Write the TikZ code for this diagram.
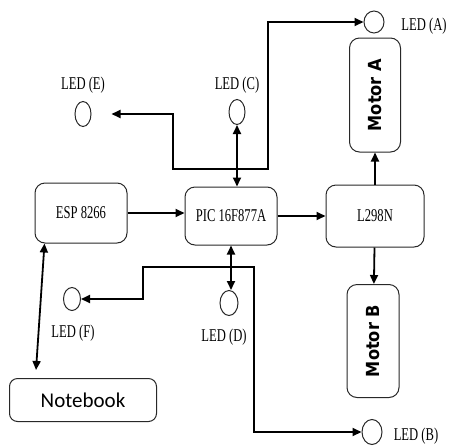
\documentclass[tikz,border=0pt]{standalone}
\usepackage{fontspec}
\setmainfont{Liberation Serif}
\newfontfamily\narrowserif[FakeStretch=0.7]{Liberation Serif}
\newfontfamily\heavysans{DejaVu Sans Condensed}
\newfontfamily\notefont{Carlito}
\usepackage{tikz}
\usetikzlibrary{arrows.meta, positioning, calc, shapes.geometric}
\definecolor{boxline}{RGB}{40,40,40}
\tikzset{
  basebox/.style={
    rectangle, rounded corners=5pt, draw=boxline, line width=0.5pt, align=center,
    font=\narrowserif\fontsize{9}{10}\selectfont, inner sep=0pt
  },
  unitbox/.style={basebox, minimum width=46pt, minimum height=30pt},
  motorbox/.style={basebox, minimum width=25.5pt, minimum height=57pt},
  motortext/.style={font=\heavysans\bfseries\fontsize{9}{10}\selectfont, rotate=90},
  pcbox/.style={basebox, rounded corners=4pt, minimum width=73.5pt, minimum height=21.5pt,
    font=\notefont\fontsize{10.5}{12}\selectfont},
  ledlamp/.style={ellipse, draw=boxline, line width=0.5pt, inner sep=0pt},
  ledlabel/.style={font=\narrowserif\fontsize{9}{10}\selectfont, inner sep=0pt},
  arrow/.style={-{Triangle[length=4.5pt,width=4pt]}, line width=0.9pt},
  dblarrow/.style={{Triangle[length=4.5pt,width=4pt]}-{Triangle[length=4.5pt,width=4pt]}, line width=0.9pt}
}

\begin{document}
\begin{tikzpicture}[x=0.5pt, y=-0.5pt]
  \useasboundingbox (0,0) rectangle (449,445);

  \node[unitbox] (esp) at (81,213) {ESP 8266};
  \node[unitbox, minimum height=29pt] (pic) at (231,216) {PIC 16F877A};
  \node[unitbox, minimum width=49pt, minimum height=31pt] (l298) at (375,216) {L298N};
  \node[motorbox] (mota) at (375,95) {};
  \node[motortext] at (mota) {Motor A};
  \node[motorbox, minimum width=26pt, minimum height=56.5pt] (motb) at (373,341) {};
  \node[motortext] at (motb) {Motor B};
  \node[pcbox] (nb) at (83,400) {Notebook};

  % leds
  \node[ledlamp, minimum width=10pt, minimum height=11pt] (leda) at (374,22) {};
  \node[ledlamp, minimum width=10pt, minimum height=12.5pt] (ledb) at (372,432) {};
  \node[ledlamp, minimum width=8pt, minimum height=12.5pt] (ledc) at (237,112) {};
  \node[ledlamp, minimum width=9pt, minimum height=12.5pt] (ledd) at (229,303) {};
  \node[ledlamp, minimum width=8pt, minimum height=12.5pt] (lede) at (83,114) {};
  \node[ledlamp, minimum width=8.5pt, minimum height=11.5pt] (ledf) at (72,299) {};

  \node[ledlabel] (la) at (424,26) {LED (A)};
  \node[ledlabel] (lb) at (416,436) {LED (B)};
  \node[ledlabel] (lc) at (237,85) {LED (C)};
  \node[ledlabel] (ld) at (224,337) {LED (D)};
  \node[ledlabel] (le) at (83,85) {LED (E)};
  \node[ledlabel] (lf) at (73,333) {LED (F)};

  \coordinate (jt) at (237,169);
  \coordinate (ke) at (173,169);
  \coordinate (ka) at (268,169);
  \coordinate (jb) at (231,267);
  \coordinate (kf) at (143,267);
  \coordinate (kb) at (254,267);

  \draw[arrow] (esp.east) -- (esp.east -| pic.west);
  \draw[arrow] (pic.east) -- (pic.east -| l298.west);
  \draw[arrow] (l298) -- (mota);
  \draw[arrow] (l298) -- (motb);
  \draw[dblarrow] (ledc.south) -- (ledc.south |- pic.north);
  \draw[dblarrow] (pic.south) -- (pic.south |- ledd.north);
  \draw[dblarrow] ([xshift=5pt]esp.south west) -- ([xshift=13.5pt,yshift=4pt]nb.north west);

  \draw[arrow, shorten >=10pt] (jt) -- (ke) |- (lede.east);
  \draw[arrow] (jt) -- (ka) |- (leda.west);
  \draw[arrow] (jb) -- (kf) |- (ledf.east);
  \draw[arrow] (jb) -- (kb) |- (ledb.west);
\end{tikzpicture}
\end{document}
